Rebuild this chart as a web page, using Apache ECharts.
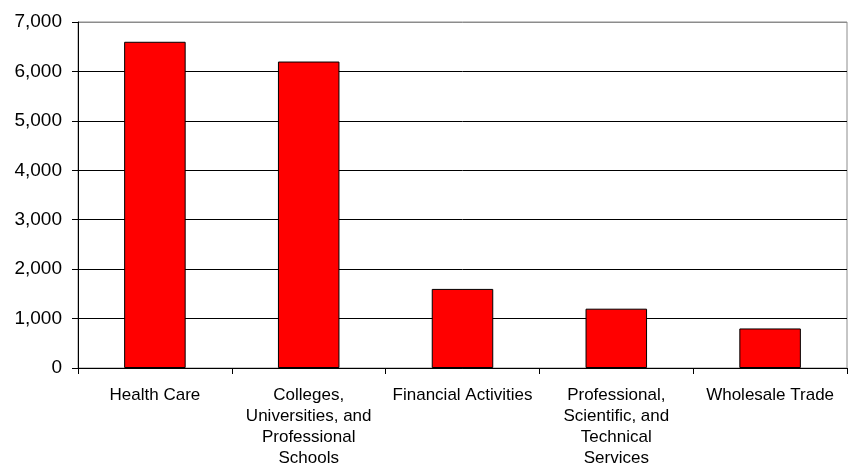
<!DOCTYPE html>
<html>
<head>
<meta charset="utf-8">
<script src="https://cdn.jsdelivr.net/npm/echarts@6/dist/echarts.min.js"></script>
<style>
  html, body { margin: 0; padding: 0; background: #fff; }
  #chart { width: 848px; height: 469px; }
</style>
</head>
<body>
<div id="chart"></div>
<script>
// Industry categories (line breaks mark the wrapped axis labels)
const categories = [
  'Health Care',
  'Colleges,\nUniversities, and\nProfessional\nSchools',
  'Financial Activities',
  'Professional,\nScientific, and\nTechnical\nServices',
  'Wholesale Trade'
];
const values = [6600, 6200, 1600, 1200, 800];
const yTicks = { min: 0, max: 7000, step: 1000 };

const chart = echarts.init(document.getElementById('chart'), null, { renderer: 'canvas' });
const fontFamily = '"Liberation Sans", Arial, sans-serif';

// gridlines black, the top one matches the grey plot frame
const gridColors = [];
for (let v = yTicks.min; v <= yTicks.max; v += yTicks.step) {
  gridColors.push(v === yTicks.max ? '#8c8c8c' : '#000');
}

chart.setOption({
  animation: false,
  backgroundColor: '#fff',
  grid: {
    left: 78, right: 1, top: 22, bottom: 98,
    show: true, borderColor: '#8c8c8c', borderWidth: 1, backgroundColor: 'transparent'
  },
  xAxis: {
    type: 'category',
    data: categories,
    axisLine: { show: true, lineStyle: { color: '#000', width: 1 } },
    axisTick: { show: true, alignWithLabel: false, length: 6, lineStyle: { color: '#000' } },
    axisLabel: {
      interval: 0, margin: 17, color: '#000',
      fontFamily: fontFamily, fontSize: 17, lineHeight: 21, align: 'center'
    },
    splitLine: { show: false }
  },
  yAxis: {
    type: 'value',
    min: yTicks.min, max: yTicks.max, interval: yTicks.step,
    axisLine: { show: true, lineStyle: { color: '#000', width: 1 } },
    axisTick: { show: true, length: 6, lineStyle: { color: '#000' } },
    axisLabel: {
      margin: 16, color: '#000', fontFamily: fontFamily, fontSize: 19,
      formatter: v => v.toLocaleString('en-US')
    },
    splitLine: { show: true, lineStyle: { color: gridColors, width: 1 } }
  },
  series: [{
    type: 'bar',
    data: values,
    barWidth: '40%',
    itemStyle: { color: '#ff0000', borderColor: '#000', borderWidth: 1 }
  }]
});
</script>
</body>
</html>
